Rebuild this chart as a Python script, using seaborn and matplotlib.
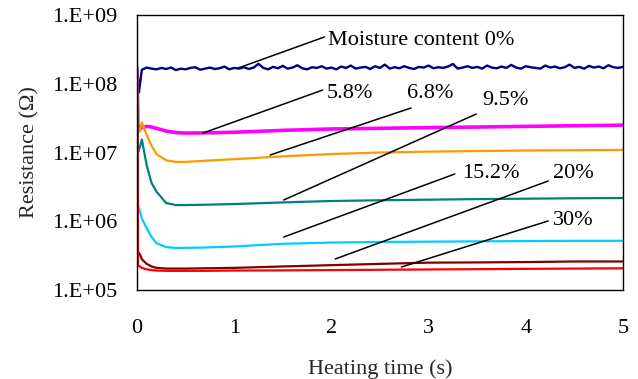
import numpy as np
import pandas as pd
import matplotlib
matplotlib.use("Agg")
import matplotlib.pyplot as plt
import seaborn as sns
from matplotlib.ticker import FixedLocator, FixedFormatter, NullLocator

# ---------------- data ----------------
time_s = [0, 0.01, 0.03, 0.05, 0.1, 0.15, 0.2, 0.3, 0.4, 0.5, 0.7, 1.0,
          1.5, 2.0, 2.5, 3.0, 3.5, 4.0, 4.5, 5.0]

r_5_8 = [1.5e8, 2.5e7, 2.2e7, 2.3e7, 2.4e7, 2.35e7, 2.25e7, 2.05e7, 1.95e7, 1.92e7,
         1.93e7, 1.97e7, 2.1e7, 2.2e7, 2.25e7, 2.3e7, 2.35e7, 2.4e7, 2.45e7, 2.5e7]
r_6_8 = [1.5e8, 2.2e7, 2.0e7, 2.75e7, 1.8e7, 1.25e7, 9.5e6, 7.7e6, 7.3e6, 7.3e6,
         7.6e6, 8.0e6, 8.8e6, 9.5e6, 1.0e7, 1.03e7, 1.05e7, 1.07e7, 1.08e7, 1.09e7]
r_9_5 = [1.5e8, 1.0e7, 1.2e7, 1.55e7, 6.5e6, 3.6e6, 2.7e6, 1.84e6, 1.72e6, 1.72e6,
         1.74e6, 1.78e6, 1.88e6, 1.97e6, 2.02e6, 2.06e6, 2.1e6, 2.13e6, 2.16e6, 2.18e6]
r_15_2 = [1.5e8, 1.7e6, 1.4e6, 1.1e6, 7.9e5, 5.9e5, 4.8e5, 4.2e5, 4.1e5, 4.1e5,
          4.15e5, 4.3e5, 4.7e5, 4.9e5, 5.0e5, 5.05e5, 5.1e5, 5.15e5, 5.2e5, 5.2e5]
r_20 = [1.5e8, 3.6e5, 3.3e5, 2.8e5, 2.4e5, 2.2e5, 2.1e5, 2.05e5, 2.05e5, 2.05e5,
        2.07e5, 2.1e5, 2.2e5, 2.3e5, 2.4e5, 2.5e5, 2.52e5, 2.55e5, 2.6e5, 2.6e5]
r_30 = [1.5e8, 2.3e5, 2.2e5, 2.1e5, 2.0e5, 1.95e5, 1.92e5, 1.9e5, 1.9e5, 1.9e5,
        1.9e5, 1.92e5, 1.93e5, 1.95e5, 1.97e5, 1.99e5, 2.01e5, 2.03e5, 2.05e5, 2.07e5]

# moisture content 0 % : noisy trace, values in units of 1e8 ohm
r_0_start_t = [0, 0.02]
r_0_start = [1.9, 0.75]
r_0_noisy = [1.60, 1.72, 1.66, 1.62, 1.70, 1.64, 1.72, 1.58, 1.66, 1.62,
             1.70, 1.74, 1.60, 1.66, 1.72, 1.64, 1.68, 1.78, 1.62, 1.70,
             1.66, 1.74, 1.64, 1.72, 1.95, 1.70, 1.62, 1.76, 1.68, 1.82,
             1.66, 1.72, 1.86, 1.68, 1.62, 1.74, 1.70, 1.80, 1.66, 1.72,
             1.62, 1.78, 1.70, 1.84, 1.66, 1.72, 1.76, 1.64, 1.80, 1.70,
             1.90, 1.66, 1.74, 1.68, 1.80, 1.70, 1.64, 1.76, 1.72, 1.84,
             1.68, 1.74, 1.70, 1.78, 1.94, 1.66, 1.72, 1.80, 1.70, 1.76,
             1.66, 1.84, 1.72, 1.68, 1.78, 1.70, 1.88, 1.72, 1.66, 1.80,
             1.74, 1.70, 1.66, 1.84, 1.72, 1.78, 1.68, 1.74, 1.90, 1.70,
             1.76, 1.66, 1.82, 1.72, 1.78, 1.68, 1.86, 1.74, 1.70, 1.76]

series_names = ["5.8%", "6.8%", "9.5%", "15.2%", "20%", "30%"]
series_values = [r_5_8, r_6_8, r_9_5, r_15_2, r_20, r_30]
series_colors = ["#FF00FF", "#FF9900", "#008080", "#00CCFF", "#800000", "#FF0000"]
series_widths = [2.6, 1.6, 1.6, 1.6, 1.6, 1.6]

label_texts = ["Moisture content 0%", "5.8%", "6.8%", "9.5%", "15.2%", "20%", "30%"]
label_pos = [(1.965, 4.2e8), (1.955, 7.1e7), (2.78, 7.1e7), (3.55, 5.8e7),
             (3.34, 4.87e6), (4.28, 4.87e6), (4.28, 1.04e6)]
leader_from = [(1.04, 1.69e8), (0.68, 1.92e7), (1.37, 9.2e6), (1.51, 2.04e6),
               (1.51, 5.9e5), (2.04, 2.83e5), (2.72, 2.16e5)]
leader_to = [(1.93, 4.8e8), (1.91, 8.1e7), (2.82, 4.44e7), (3.49, 3.63e7),
             (3.27, 4.87e6), (4.23, 3.85e6), (4.23, 1.01e6)]

y_ticks = [1e5, 1e6, 1e7, 1e8, 1e9]
y_tick_labels = ["1.E+05", "1.E+06", "1.E+07", "1.E+08", "1.E+09"]
x_ticks = [0, 1, 2, 3, 4, 5]

# ---------------- figure ----------------
sns.set_style("white")
plt.rcParams["font.family"] = ["Liberation Serif", "DejaVu Serif"]
plt.rcParams["mathtext.fontset"] = "stix"

FS = 16

fig = plt.figure(figsize=(6.38, 3.79), dpi=100)
ax = fig.add_axes([0.2147, 0.2348, 0.9765 - 0.2147, 0.9604 - 0.2348])

# 0 % trace
t0 = list(r_0_start_t) + list(np.linspace(0.05, 5.0, len(r_0_noisy)))
v0 = [v * 1e8 for v in list(r_0_start) + list(r_0_noisy)]
sns.lineplot(x=t0, y=v0, ax=ax, color="#000080", linewidth=1.7, sort=False,
             estimator=None)

for name, vals, col, lw in zip(series_names, series_values, series_colors, series_widths):
    df = pd.DataFrame({"t": time_s, "R": vals})
    sns.lineplot(data=df, x="t", y="R", ax=ax, color=col, linewidth=lw,
                 sort=False, estimator=None)

ax.set_yscale("log")
ax.set_xlim(0, 5)
ax.set_ylim(1e5, 1e9)

for txt, (tx, ty), (x0, y0), (x1, y1) in zip(label_texts, label_pos, leader_from, leader_to):
    ax.plot([x0, x1], [y0, y1], color="black", linewidth=1.1)
    ax.text(tx, ty, txt, fontsize=FS, ha="left", va="center", color="black")

ax.yaxis.set_major_locator(FixedLocator(y_ticks))
ax.yaxis.set_major_formatter(FixedFormatter(y_tick_labels))
ax.yaxis.set_minor_locator(NullLocator())
ax.set_xticks(x_ticks)
ax.set_xticklabels([str(v) for v in x_ticks])
ax.tick_params(axis="both", direction="in", length=5, width=1, labelsize=FS,
               color="black", labelcolor="black")
ax.tick_params(axis="y", pad=14)
ax.tick_params(axis="x", pad=21)

for s in ax.spines.values():
    s.set_color("black")
    s.set_linewidth(1.0)

ax.set_xlabel("Heating time (s)", fontsize=FS, labelpad=15)
ax.set_ylabel("Resistance (Ω)", fontsize=FS, labelpad=9)
ax.grid(False)

fig.savefig("out.png", dpi=100)
